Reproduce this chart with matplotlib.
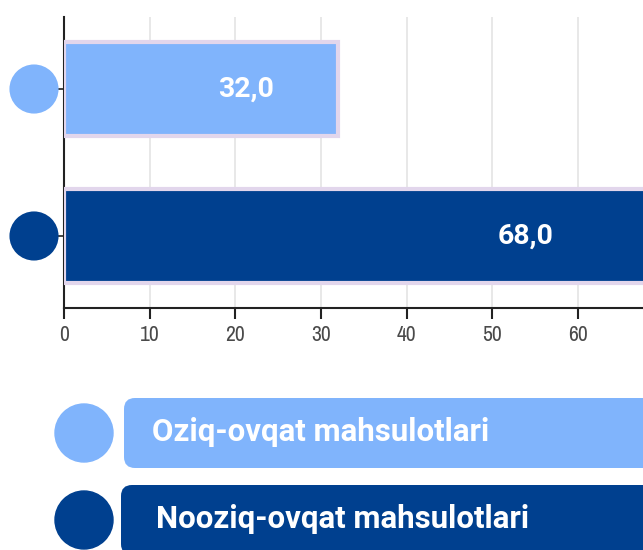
import matplotlib
matplotlib.use("Agg")
import matplotlib.pyplot as plt
from matplotlib.patches import Circle, FancyBboxPatch
import matplotlib.transforms as mtransforms
from matplotlib import font_manager

categories = ["Oziq-ovqat mahsulotlari", "Nooziq-ovqat mahsulotlari"]
values = [32.0, 68.0]
colors = ["#80b4fc", "#00408f"]
xticks = [0, 10, 20, 30, 40, 50, 60]

# pick a condensed font for tick labels if one is installed
cond = None
for f in font_manager.fontManager.ttflist:
    n = f.name
    if ("Condensed" in n or "Narrow" in n) and "Mono" not in n:
        cond = n
        break
if cond is None:
    for f in font_manager.fontManager.ttflist:
        if str(f.stretch) in ("condensed", "semi-condensed", "extra-condensed") or (
                isinstance(f.stretch, int) and f.stretch < 500):
            cond = f.name
            break
tick_family = [cond, "Roboto"] if cond else ["Roboto"]

W, H = 643, 550
fig = plt.figure(figsize=(W / 100, H / 100), dpi=100)
ax = fig.add_axes([64 / W, 242 / H, 1 - 64 / W, 291 / H])

y = list(range(len(categories)))
ax.barh(y, values, height=0.64, color=colors, edgecolor="#e2d6ec", linewidth=3, zorder=3)
ax.set_ylim(1.49, -0.49)
ax.set_xlim(0, 67.6)
ax.set_xticks(xticks)
ax.set_xticklabels([str(t) for t in xticks], family=tick_family,
                   fontsize=15.5 if cond else 11.5, color="#4a4a4a")
ax.set_yticks(y)
ax.set_yticklabels([])
ax.tick_params(axis="x", length=8, width=1.5, color="#222222", pad=4)
ax.tick_params(axis="y", length=6, width=1.2, color="#222222")
ax.grid(axis="x", color="#e4e4e4", linewidth=1.2, zorder=0)
for s in ["top", "right"]:
    ax.spines[s].set_visible(False)
for s in ["left", "bottom"]:
    ax.spines[s].set_color("#222222")
    ax.spines[s].set_linewidth(1.5)

# value labels
label_frac = [0.663, 0.793]
for i, v in enumerate(values):
    ax.text(v * label_frac[i], i, f"{v:.1f}".replace(".", ","), color="white", fontsize=20.5,
            fontweight="bold", family=["Roboto", "DejaVu Sans"], ha="center", va="center", zorder=5)

# circle markers on the y axis
trans = mtransforms.blended_transform_factory(ax.transAxes, ax.transData)
ax.scatter([-30 / 579] * len(y), y, s=1250, c=colors, transform=trans, clip_on=False, zorder=5,
           linewidths=0)

# legend area in pixel coordinates
lax = fig.add_axes([0, 0, 1, 165 / H])
lax.set_xlim(0, W)
lax.set_ylim(165, 0)
lax.axis("off")
rows = [(433, 124, 152), (520, 121, 156)]
for i, cat in enumerate(categories):
    cy, rx, tx = rows[i]
    lax.add_patch(Circle((84, cy - 385), 29, color=colors[i], clip_on=False))
    lax.add_patch(FancyBboxPatch((rx, cy - 385 - 35), 560, 70,
                                 boxstyle="round,pad=0,rounding_size=11",
                                 fc=colors[i], ec="none", clip_on=True))
    lax.text(tx, cy - 385 - 1, cat, color="white", fontsize=22.5, fontweight="bold",
             family=["Roboto", "DejaVu Sans"], ha="left", va="center")

fig.savefig("out.png", dpi=100)
